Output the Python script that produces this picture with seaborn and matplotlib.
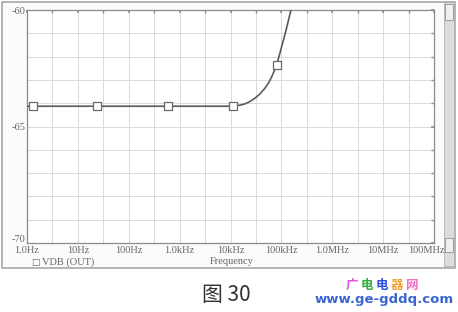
import matplotlib
matplotlib.use("Agg")
import matplotlib.pyplot as plt
import matplotlib.transforms as mtransforms
import seaborn as sns
import pandas as pd
from matplotlib.patches import Rectangle
from matplotlib.ticker import FixedLocator, NullFormatter

# ---- data ----
freq_hz = [1.0, 10.0, 100.0, 1000.0, 10000.0, 11300.0, 15000.0, 19200.0, 24000.0, 30100.0,
           38000.0, 47400.0, 56000.0, 64200.0, 72000.0, 80500.0, 90000.0, 101000.0,
           113000.0, 126000.0, 140000.0, 154000.0, 165000.0]
vdb = [-64.13, -64.13, -64.13, -64.13, -64.13, -64.12, -64.09, -64.03, -63.93, -63.79,
       -63.6, -63.36, -63.13, -62.88, -62.63, -62.36, -61.99, -61.58,
       -61.19, -60.79, -60.38, -60.0, -59.65]
marker_freq_hz = [1.33, 23.4, 597.0, 11300.0, 80500.0]
marker_vdb = [-64.13, -64.13, -64.13, -64.12, -62.36]
x_tick_values = [1, 10, 100, 1e3, 1e4, 1e5, 1e6, 1e7, 1e8]
x_tick_labels = ["1.0Hz", "10Hz", "100Hz", "1.0kHz", "10kHz", "100kHz", "1.0MHz", "10MHz", "100MHz"]
y_tick_values = [-60, -65, -70]
y_tick_labels = ["-60", "-65", "-70"]
legend_label = "VDB (OUT)"
x_title = "Frequency"
caption = "图 30"
watermark_chars = ["广", "电", "电", "器", "网"]
watermark_colors = ["#e050e0", "#30b040", "#3050e0", "#f0a030", "#f070c8"]
watermark_url = "www.ge-gddq.com"

sns.set_theme(style="white")
plt.rcParams['font.family'] = ['Liberation Serif', 'DejaVu Sans']

W, H = 458, 312
fig = plt.figure(figsize=(W / 100, H / 100), dpi=100)
fig.patch.set_facecolor("white")

def fx(px):
    return px / W

def fy(py):
    return 1 - py / H

# window frame
fig.patches.append(Rectangle((fx(1.5), fy(268)), fx(455) - fx(1.5), fy(1.5) - fy(268),
                             transform=fig.transFigure, facecolor="#fbfbfb",
                             edgecolor="#a8a8a8", lw=1.2, zorder=-3))
# scrollbar
fig.patches.append(Rectangle((fx(444), fy(266)), fx(10), fy(2) - fy(266),
                             transform=fig.transFigure, facecolor="#dcdcdc",
                             edgecolor="#b0b0b0", lw=0.6, zorder=-2))
for y0, y1 in [(4, 20), (238, 252)]:
    fig.patches.append(Rectangle((fx(445), fy(y1)), fx(8), fy(y0) - fy(y1),
                                 transform=fig.transFigure, facecolor="#efefef",
                                 edgecolor="#909090", lw=0.6, zorder=-1))

ax = fig.add_axes([fx(27), fy(243), fx(434) - fx(27), fy(10) - fy(243)])
ax.set_zorder(5)
ax.set_facecolor("white")

df = pd.DataFrame({"freq": freq_hz, "vdb": vdb})
dm = pd.DataFrame({"freq": marker_freq_hz, "vdb": marker_vdb})
sns.lineplot(data=df, x="freq", y="vdb", ax=ax, color="#5a5a5a", lw=1.2, zorder=3)
sns.scatterplot(data=dm, x="freq", y="vdb", ax=ax, marker="s", s=28,
                facecolor="white", edgecolor="#6a6a6a", linewidth=0.9, zorder=4)

ax.set_xscale("log")
ax.set_xlim(1, 1e8)
ax.set_ylim(-70, -60)
ax.set_xticks(x_tick_values)
ax.set_xticklabels(x_tick_labels)
ax.xaxis.set_minor_locator(FixedLocator([10 ** (k + 0.5) for k in range(8)]))
ax.xaxis.set_minor_formatter(NullFormatter())
ax.set_yticks(y_tick_values)
ax.set_yticklabels(y_tick_labels)
ax.yaxis.set_minor_locator(FixedLocator(list(range(-69, -60))))
ax.grid(True, which="both", color="#dadada", lw=0.7)
ax.tick_params(axis="both", which="both", direction="in", length=2.5, color="#909090",
               top=True, right=True, labelsize=7.5, labelcolor="#666666", pad=2)
ax.tick_params(axis="y", pad=1)
for s in ax.spines.values():
    s.set_color("#8a8a8a")
    s.set_linewidth(0.9)
ax.set_xlabel("")
ax.set_ylabel("")
ax.get_legend() and ax.get_legend().remove()

# nudge the -70 label up so it does not touch the 1.0Hz label
for lbl in ax.get_yticklabels():
    if lbl.get_text() == "-70":
        lbl.set_transform(lbl.get_transform() + mtransforms.ScaledTranslation(0, 3 / 72, fig.dpi_scale_trans))
# the last frequency label sits left of the axis end, as in the reference
for lbl in ax.get_xticklabels():
    if lbl.get_text() == "100MHz":
        lbl.set_transform(lbl.get_transform() + mtransforms.ScaledTranslation(-8 / 100, 0, fig.dpi_scale_trans))

# legend and axis title below plot
fig.text(fx(31), fy(262), "\u25a1", fontsize=6.5, color="#666666", va="center",
         ha="left", family=["DejaVu Sans"])
fig.text(fx(42), fy(262), legend_label, fontsize=7.5, color="#666666", va="center", ha="left")
fig.text(fx(232), fy(262), x_title, fontsize=7.5, color="#666666", va="center", ha="center")

# caption
fig.text(fx(226), fy(295), caption, fontsize=15, color="#333333", va="center", ha="center",
         family=["Noto Sans CJK SC", "DejaVu Sans"])
# watermark
for i, (ch, col) in enumerate(zip(watermark_chars, watermark_colors)):
    fig.text(fx(352 + i * 15), fy(285), ch, fontsize=9, color=col, va="center", ha="center",
             weight="bold", family=["Noto Sans CJK SC", "DejaVu Sans"])
fig.text(fx(384), fy(299), watermark_url, fontsize=9.5, color="#3a66d0", va="center",
         ha="center", weight="bold", family=["DejaVu Sans"])

fig.savefig("out.png", dpi=100)
